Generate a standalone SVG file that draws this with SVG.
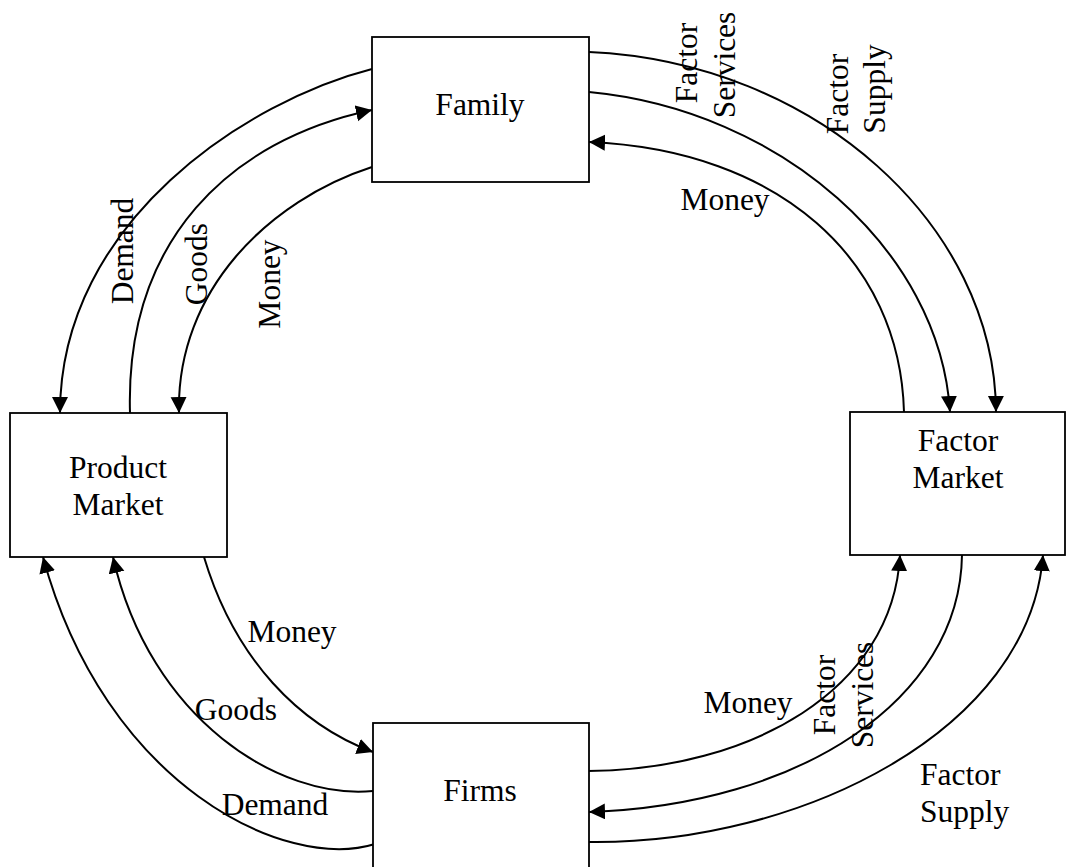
<svg xmlns="http://www.w3.org/2000/svg" width="1066" height="867" viewBox="0 0 1066 867">
  <style>
    .box { fill: #ffffff; stroke: #000000; stroke-width: 1.8; }
    .flow { fill: none; stroke: #000000; stroke-width: 2; }
    .arr { marker-end: url(#head); }
    text { font-family: "Liberation Serif", "Times New Roman", serif; font-size: 31.5px; fill: #000000; }
    .c { text-anchor: middle; }
  </style>
  <defs>
    <marker id="head" markerUnits="userSpaceOnUse" markerWidth="18" markerHeight="18" refX="16" refY="8" orient="auto">
      <path d="M0,0 L16,8 L0,16 z" fill="#000000"/>
    </marker>
  </defs>

  <rect width="1066" height="867" fill="#ffffff"/>

  <!-- flows between the four sectors -->
  <g id="connectors">
    <!-- Family / Product Market -->
    <path class="flow arr" d="M372,69 C250,100 60,220 60,413"/>
    <path class="flow arr" d="M130,413 C125,240 230,140 372,110"/>
    <path class="flow arr" d="M372,167 C270,200 176,290 179,413"/>
    <!-- Family / Factor Market -->
    <path class="flow arr" d="M589,52 C815,62 995,225 996,412"/>
    <path class="flow arr" d="M589,92 C780,110 940,250 950,412"/>
    <path class="flow arr" d="M904,412 C900,260 780,150 589,142"/>
    <!-- Product Market / Firms -->
    <path class="flow arr" d="M204,557 C235,660 300,725 373,752"/>
    <path class="flow arr" d="M373,791 C280,800 150,720 113,557"/>
    <path class="flow arr" d="M375,844 C285,872 105,785 43,557"/>
    <!-- Firms / Factor Market -->
    <path class="flow arr" d="M588,771 C750,770 893,690 900,555"/>
    <path class="flow arr" d="M962,555 C960,700 800,805 589,812"/>
    <path class="flow arr" d="M588,842 C800,845 1030,730 1043,555"/>
  </g>

  <g id="labels">
    <text transform="translate(133,251) rotate(-90)" class="c">Demand</text>
    <text transform="translate(207,264) rotate(-90)" class="c">Goods</text>
    <text transform="translate(280,284) rotate(-90)" class="c">Money</text>

    <text transform="translate(697,63) rotate(-90)" class="c">Factor</text>
    <text transform="translate(735,65) rotate(-90)" class="c">Services</text>
    <text transform="translate(848,94) rotate(-90)" class="c">Factor</text>
    <text transform="translate(885,89) rotate(-90)" class="c">Supply</text>
    <text x="725" y="210" class="c">Money</text>

    <text x="292" y="642" class="c">Money</text>
    <text x="236" y="720" class="c">Goods</text>
    <text x="275" y="815" class="c">Demand</text>

    <text x="748" y="713" class="c">Money</text>
    <text transform="translate(835,695) rotate(-90)" class="c">Factor</text>
    <text transform="translate(873,695) rotate(-90)" class="c">Services</text>
    <text x="920" y="785">Factor</text>
    <text x="920" y="822">Supply</text>
  </g>

  <g id="family">
    <rect class="box" x="372" y="37" width="217" height="145"/>
    <text x="480" y="115" class="c">Family</text>
  </g>

  <g id="product-market">
    <rect class="box" x="10" y="413" width="217" height="144"/>
    <text x="118" y="478" class="c">Product</text>
    <text x="118" y="515" class="c">Market</text>
  </g>

  <g id="factor-market">
    <rect class="box" x="850" y="412" width="215" height="143"/>
    <text x="958" y="451" class="c">Factor</text>
    <text x="958" y="488" class="c">Market</text>
  </g>

  <g id="firms">
    <rect class="box" x="373" y="723" width="216" height="146"/>
    <text x="480" y="801" class="c">Firms</text>
  </g>
</svg>
